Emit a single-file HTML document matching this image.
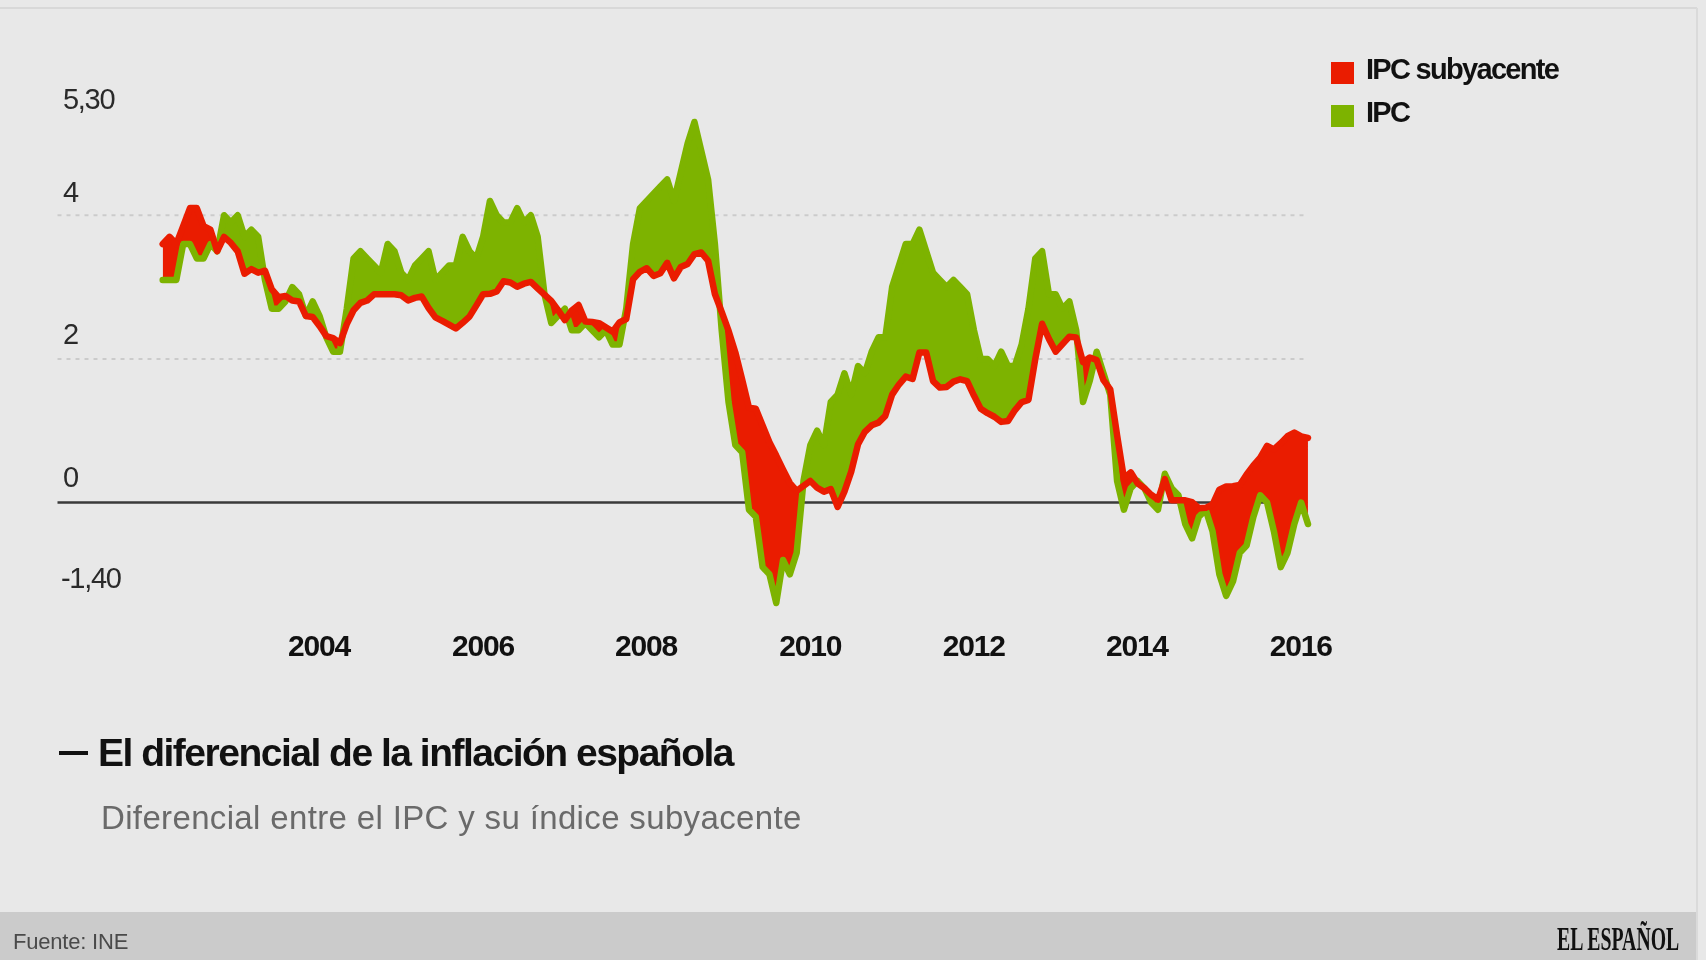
<!DOCTYPE html>
<html><head><meta charset="utf-8">
<style>
html,body{margin:0;padding:0;}
body{width:1706px;height:960px;position:relative;overflow:hidden;background:#e8e8e8;font-family:"Liberation Sans",sans-serif;}
.t{position:absolute;white-space:nowrap;line-height:1;}
.ylab{font-size:29px;color:#2a2a2a;letter-spacing:-1.3px;}
.xlab{font-size:30px;font-weight:bold;color:#111;letter-spacing:-1.2px;width:120px;text-align:center;}
.leg{font-size:29px;font-weight:bold;color:#111;letter-spacing:-1.7px;}
</style></head><body>
<div id="wrap" style="position:absolute;left:0;top:0;width:1706px;height:960px;filter:blur(0.5px)">
<div style="position:absolute;left:0;top:7px;width:1697px;height:2px;background:#d8d8d8"></div>
<div style="position:absolute;left:1696px;top:8px;width:2px;height:952px;background:#dadada"></div>
<div style="position:absolute;left:0;top:912px;width:1696px;height:48px;background:#cbcbcb"></div>
<svg width="1706" height="960" viewBox="0 0 1706 960" style="position:absolute;left:0;top:0">
<defs>
<clipPath id="cAboveIpc"><polygon points="162.71,0 162.71,279.92 169.53,279.92 176.34,279.92 183.16,244.02 189.98,244.02 196.79,258.38 203.61,258.38 210.43,244.02 217.25,251.20 224.06,215.30 230.88,222.48 237.70,215.30 244.51,236.84 251.33,229.66 258.15,236.84 264.96,279.92 271.78,308.64 278.60,308.64 285.42,301.46 292.23,287.10 299.05,294.28 305.87,315.82 312.68,301.46 319.50,315.82 326.32,337.36 333.13,351.72 339.95,351.72 346.77,308.64 353.58,258.38 360.40,251.20 367.22,258.38 374.04,265.56 380.85,272.74 387.67,244.02 394.49,251.20 401.30,272.74 408.12,279.92 414.94,265.56 421.75,258.38 428.57,251.20 435.39,279.92 442.21,272.74 449.02,265.56 455.84,265.56 462.66,236.84 469.47,251.20 476.29,258.38 483.11,236.84 489.93,200.94 496.74,215.30 503.56,222.48 510.38,222.48 517.19,208.12 524.01,222.48 530.83,215.30 537.64,236.84 544.46,294.28 551.28,323.00 558.10,315.82 564.91,308.64 571.73,330.18 578.55,330.18 585.36,323.00 592.18,330.18 599.00,337.36 605.81,330.18 612.63,344.54 619.45,344.54 626.26,308.64 633.08,244.02 639.90,208.12 646.72,200.94 653.53,193.76 660.35,186.58 667.17,179.40 673.98,200.94 680.80,172.22 687.62,143.50 694.43,121.96 701.25,150.68 708.07,179.40 714.89,244.02 721.70,330.18 728.52,401.98 735.34,445.06 742.15,452.24 748.97,509.68 755.79,516.86 762.61,567.12 769.42,574.30 776.24,603.02 783.06,559.94 789.87,574.30 796.69,552.76 803.51,480.96 810.32,445.06 817.14,430.70 823.96,445.06 830.78,401.98 837.59,394.80 844.41,373.26 851.23,394.80 858.04,366.08 864.86,373.26 871.68,351.72 878.49,337.36 885.31,337.36 892.13,287.10 898.95,265.56 905.76,244.02 912.58,244.02 919.40,229.66 926.21,251.20 933.03,272.74 939.85,279.92 946.66,287.10 953.48,279.92 960.30,287.10 967.12,294.28 973.93,330.18 980.75,358.90 987.57,358.90 994.38,366.08 1001.20,351.72 1008.02,366.08 1014.83,366.08 1021.65,344.54 1028.47,308.64 1035.28,258.38 1042.10,251.20 1048.92,294.28 1055.74,294.28 1062.55,308.64 1069.37,301.46 1076.19,330.18 1083.00,401.98 1089.82,380.44 1096.64,351.72 1103.45,373.26 1110.27,394.80 1117.09,480.96 1123.91,509.68 1130.72,488.14 1137.54,480.96 1144.36,488.14 1151.17,502.50 1157.99,509.68 1164.81,473.78 1171.62,488.14 1178.44,495.32 1185.26,524.04 1192.08,538.40 1198.89,516.86 1205.71,509.68 1212.53,531.22 1219.34,574.30 1226.16,595.84 1232.98,581.48 1239.80,552.76 1246.61,545.58 1253.43,516.86 1260.25,495.32 1267.06,502.50 1273.88,531.22 1280.70,567.12 1287.51,552.76 1294.33,524.04 1301.15,502.50 1307.97,524.04 1307.97,0"/></clipPath>
<clipPath id="cAboveCore"><polygon points="162.71,0 162.71,244.02 169.53,236.84 176.34,244.02 183.16,226.07 189.98,208.12 196.79,208.12 203.61,226.07 210.43,229.66 217.25,251.20 224.06,236.84 230.88,242.92 237.70,251.37 244.51,273.75 251.33,269.15 258.15,272.74 264.96,270.71 271.78,289.30 278.60,297.21 285.42,295.92 292.23,300.54 299.05,301.46 305.87,315.93 312.68,317.04 319.50,326.04 326.32,336.12 333.13,338.08 339.95,343.10 346.77,324.17 353.58,310.28 360.40,302.82 367.22,300.48 374.04,294.28 380.85,294.28 387.67,294.28 394.49,294.28 401.30,295.31 408.12,300.43 414.94,297.87 421.75,296.56 428.57,307.98 435.39,317.41 442.21,320.89 449.02,324.63 455.84,328.55 462.66,322.85 469.47,316.65 476.29,305.64 483.11,294.24 489.93,293.86 496.74,291.51 503.56,281.25 510.38,282.53 517.19,286.68 524.01,283.68 530.83,281.92 537.64,288.35 544.46,294.71 551.28,300.93 558.10,310.16 564.91,320.13 571.73,310.43 578.55,304.95 585.36,321.60 592.18,321.98 599.00,323.13 605.81,327.37 612.63,331.62 619.45,322.43 626.26,318.99 633.08,279.18 639.90,271.81 646.72,268.22 653.53,275.98 660.35,273.22 667.17,262.83 673.98,278.36 680.80,267.00 687.62,264.00 694.43,254.22 701.25,252.49 708.07,260.75 714.89,293.98 721.70,311.82 728.52,330.66 735.34,352.35 742.15,379.43 748.97,407.72 755.79,408.83 762.61,425.40 769.42,442.19 776.24,455.55 783.06,469.70 789.87,483.08 796.69,490.95 803.51,485.95 810.32,480.96 817.14,487.72 823.96,491.68 830.78,489.11 837.59,506.89 844.41,491.64 851.23,471.63 858.04,444.21 864.86,431.78 871.68,425.33 878.49,422.64 885.31,415.83 892.13,394.62 898.95,384.55 905.76,376.62 912.58,378.97 919.40,352.44 926.21,352.44 933.03,381.04 939.85,387.62 946.66,386.90 953.48,381.64 960.30,379.26 967.12,381.16 973.93,395.52 980.75,408.87 987.57,413.18 994.38,416.75 1001.20,421.90 1008.02,421.01 1014.83,410.30 1021.65,402.22 1028.47,399.83 1035.28,359.01 1042.10,323.79 1048.92,338.87 1055.74,351.69 1062.55,344.18 1069.37,336.67 1076.19,337.36 1083.00,362.21 1089.82,357.46 1096.64,360.07 1103.45,380.18 1110.27,389.41 1117.09,435.30 1123.91,478.25 1130.72,472.34 1137.54,483.26 1144.36,488.14 1151.17,494.73 1157.99,499.53 1164.81,479.20 1171.62,500.35 1178.44,500.35 1185.26,500.35 1192.08,502.14 1198.89,508.21 1205.71,507.83 1212.53,504.55 1219.34,489.68 1226.16,486.49 1232.98,486.23 1239.80,484.91 1246.61,474.43 1253.43,465.45 1260.25,457.70 1267.06,445.78 1273.88,449.37 1280.70,443.15 1287.51,436.14 1294.33,432.58 1301.15,436.44 1307.97,437.88 1307.97,0"/></clipPath>
</defs>
<line x1="57.5" y1="215.3" x2="1305" y2="215.3" stroke="#cbcbcb" stroke-width="2" stroke-dasharray="4 5"/>
<line x1="57.5" y1="359" x2="1305" y2="359" stroke="#cbcbcb" stroke-width="2" stroke-dasharray="4 5"/>
<line x1="57.5" y1="502.5" x2="1305" y2="502.5" stroke="#3a3a3a" stroke-width="2.5"/>
<polygon points="162.71,960 162.71,244.02 169.53,236.84 176.34,244.02 183.16,226.07 189.98,208.12 196.79,208.12 203.61,226.07 210.43,229.66 217.25,251.20 224.06,236.84 230.88,242.92 237.70,251.37 244.51,273.75 251.33,269.15 258.15,272.74 264.96,270.71 271.78,289.30 278.60,297.21 285.42,295.92 292.23,300.54 299.05,301.46 305.87,315.93 312.68,317.04 319.50,326.04 326.32,336.12 333.13,338.08 339.95,343.10 346.77,324.17 353.58,310.28 360.40,302.82 367.22,300.48 374.04,294.28 380.85,294.28 387.67,294.28 394.49,294.28 401.30,295.31 408.12,300.43 414.94,297.87 421.75,296.56 428.57,307.98 435.39,317.41 442.21,320.89 449.02,324.63 455.84,328.55 462.66,322.85 469.47,316.65 476.29,305.64 483.11,294.24 489.93,293.86 496.74,291.51 503.56,281.25 510.38,282.53 517.19,286.68 524.01,283.68 530.83,281.92 537.64,288.35 544.46,294.71 551.28,300.93 558.10,310.16 564.91,320.13 571.73,310.43 578.55,304.95 585.36,321.60 592.18,321.98 599.00,323.13 605.81,327.37 612.63,331.62 619.45,322.43 626.26,318.99 633.08,279.18 639.90,271.81 646.72,268.22 653.53,275.98 660.35,273.22 667.17,262.83 673.98,278.36 680.80,267.00 687.62,264.00 694.43,254.22 701.25,252.49 708.07,260.75 714.89,293.98 721.70,311.82 728.52,330.66 735.34,352.35 742.15,379.43 748.97,407.72 755.79,408.83 762.61,425.40 769.42,442.19 776.24,455.55 783.06,469.70 789.87,483.08 796.69,490.95 803.51,485.95 810.32,480.96 817.14,487.72 823.96,491.68 830.78,489.11 837.59,506.89 844.41,491.64 851.23,471.63 858.04,444.21 864.86,431.78 871.68,425.33 878.49,422.64 885.31,415.83 892.13,394.62 898.95,384.55 905.76,376.62 912.58,378.97 919.40,352.44 926.21,352.44 933.03,381.04 939.85,387.62 946.66,386.90 953.48,381.64 960.30,379.26 967.12,381.16 973.93,395.52 980.75,408.87 987.57,413.18 994.38,416.75 1001.20,421.90 1008.02,421.01 1014.83,410.30 1021.65,402.22 1028.47,399.83 1035.28,359.01 1042.10,323.79 1048.92,338.87 1055.74,351.69 1062.55,344.18 1069.37,336.67 1076.19,337.36 1083.00,362.21 1089.82,357.46 1096.64,360.07 1103.45,380.18 1110.27,389.41 1117.09,435.30 1123.91,478.25 1130.72,472.34 1137.54,483.26 1144.36,488.14 1151.17,494.73 1157.99,499.53 1164.81,479.20 1171.62,500.35 1178.44,500.35 1185.26,500.35 1192.08,502.14 1198.89,508.21 1205.71,507.83 1212.53,504.55 1219.34,489.68 1226.16,486.49 1232.98,486.23 1239.80,484.91 1246.61,474.43 1253.43,465.45 1260.25,457.70 1267.06,445.78 1273.88,449.37 1280.70,443.15 1287.51,436.14 1294.33,432.58 1301.15,436.44 1307.97,437.88 1307.97,960" fill="#ea1c00" clip-path="url(#cAboveIpc)"/>
<polygon points="162.71,960 162.71,279.92 169.53,279.92 176.34,279.92 183.16,244.02 189.98,244.02 196.79,258.38 203.61,258.38 210.43,244.02 217.25,251.20 224.06,215.30 230.88,222.48 237.70,215.30 244.51,236.84 251.33,229.66 258.15,236.84 264.96,279.92 271.78,308.64 278.60,308.64 285.42,301.46 292.23,287.10 299.05,294.28 305.87,315.82 312.68,301.46 319.50,315.82 326.32,337.36 333.13,351.72 339.95,351.72 346.77,308.64 353.58,258.38 360.40,251.20 367.22,258.38 374.04,265.56 380.85,272.74 387.67,244.02 394.49,251.20 401.30,272.74 408.12,279.92 414.94,265.56 421.75,258.38 428.57,251.20 435.39,279.92 442.21,272.74 449.02,265.56 455.84,265.56 462.66,236.84 469.47,251.20 476.29,258.38 483.11,236.84 489.93,200.94 496.74,215.30 503.56,222.48 510.38,222.48 517.19,208.12 524.01,222.48 530.83,215.30 537.64,236.84 544.46,294.28 551.28,323.00 558.10,315.82 564.91,308.64 571.73,330.18 578.55,330.18 585.36,323.00 592.18,330.18 599.00,337.36 605.81,330.18 612.63,344.54 619.45,344.54 626.26,308.64 633.08,244.02 639.90,208.12 646.72,200.94 653.53,193.76 660.35,186.58 667.17,179.40 673.98,200.94 680.80,172.22 687.62,143.50 694.43,121.96 701.25,150.68 708.07,179.40 714.89,244.02 721.70,330.18 728.52,401.98 735.34,445.06 742.15,452.24 748.97,509.68 755.79,516.86 762.61,567.12 769.42,574.30 776.24,603.02 783.06,559.94 789.87,574.30 796.69,552.76 803.51,480.96 810.32,445.06 817.14,430.70 823.96,445.06 830.78,401.98 837.59,394.80 844.41,373.26 851.23,394.80 858.04,366.08 864.86,373.26 871.68,351.72 878.49,337.36 885.31,337.36 892.13,287.10 898.95,265.56 905.76,244.02 912.58,244.02 919.40,229.66 926.21,251.20 933.03,272.74 939.85,279.92 946.66,287.10 953.48,279.92 960.30,287.10 967.12,294.28 973.93,330.18 980.75,358.90 987.57,358.90 994.38,366.08 1001.20,351.72 1008.02,366.08 1014.83,366.08 1021.65,344.54 1028.47,308.64 1035.28,258.38 1042.10,251.20 1048.92,294.28 1055.74,294.28 1062.55,308.64 1069.37,301.46 1076.19,330.18 1083.00,401.98 1089.82,380.44 1096.64,351.72 1103.45,373.26 1110.27,394.80 1117.09,480.96 1123.91,509.68 1130.72,488.14 1137.54,480.96 1144.36,488.14 1151.17,502.50 1157.99,509.68 1164.81,473.78 1171.62,488.14 1178.44,495.32 1185.26,524.04 1192.08,538.40 1198.89,516.86 1205.71,509.68 1212.53,531.22 1219.34,574.30 1226.16,595.84 1232.98,581.48 1239.80,552.76 1246.61,545.58 1253.43,516.86 1260.25,495.32 1267.06,502.50 1273.88,531.22 1280.70,567.12 1287.51,552.76 1294.33,524.04 1301.15,502.50 1307.97,524.04 1307.97,960" fill="#7db300" clip-path="url(#cAboveCore)"/>
<polyline points="162.71,279.92 169.53,279.92 176.34,279.92 183.16,244.02 189.98,244.02 196.79,258.38 203.61,258.38 210.43,244.02 217.25,251.20 224.06,215.30 230.88,222.48 237.70,215.30 244.51,236.84 251.33,229.66 258.15,236.84 264.96,279.92 271.78,308.64 278.60,308.64 285.42,301.46 292.23,287.10 299.05,294.28 305.87,315.82 312.68,301.46 319.50,315.82 326.32,337.36 333.13,351.72 339.95,351.72 346.77,308.64 353.58,258.38 360.40,251.20 367.22,258.38 374.04,265.56 380.85,272.74 387.67,244.02 394.49,251.20 401.30,272.74 408.12,279.92 414.94,265.56 421.75,258.38 428.57,251.20 435.39,279.92 442.21,272.74 449.02,265.56 455.84,265.56 462.66,236.84 469.47,251.20 476.29,258.38 483.11,236.84 489.93,200.94 496.74,215.30 503.56,222.48 510.38,222.48 517.19,208.12 524.01,222.48 530.83,215.30 537.64,236.84 544.46,294.28 551.28,323.00 558.10,315.82 564.91,308.64 571.73,330.18 578.55,330.18 585.36,323.00 592.18,330.18 599.00,337.36 605.81,330.18 612.63,344.54 619.45,344.54 626.26,308.64 633.08,244.02 639.90,208.12 646.72,200.94 653.53,193.76 660.35,186.58 667.17,179.40 673.98,200.94 680.80,172.22 687.62,143.50 694.43,121.96 701.25,150.68 708.07,179.40 714.89,244.02 721.70,330.18 728.52,401.98 735.34,445.06 742.15,452.24 748.97,509.68 755.79,516.86 762.61,567.12 769.42,574.30 776.24,603.02 783.06,559.94 789.87,574.30 796.69,552.76 803.51,480.96 810.32,445.06 817.14,430.70 823.96,445.06 830.78,401.98 837.59,394.80 844.41,373.26 851.23,394.80 858.04,366.08 864.86,373.26 871.68,351.72 878.49,337.36 885.31,337.36 892.13,287.10 898.95,265.56 905.76,244.02 912.58,244.02 919.40,229.66 926.21,251.20 933.03,272.74 939.85,279.92 946.66,287.10 953.48,279.92 960.30,287.10 967.12,294.28 973.93,330.18 980.75,358.90 987.57,358.90 994.38,366.08 1001.20,351.72 1008.02,366.08 1014.83,366.08 1021.65,344.54 1028.47,308.64 1035.28,258.38 1042.10,251.20 1048.92,294.28 1055.74,294.28 1062.55,308.64 1069.37,301.46 1076.19,330.18 1083.00,401.98 1089.82,380.44 1096.64,351.72 1103.45,373.26 1110.27,394.80 1117.09,480.96 1123.91,509.68 1130.72,488.14 1137.54,480.96 1144.36,488.14 1151.17,502.50 1157.99,509.68 1164.81,473.78 1171.62,488.14 1178.44,495.32 1185.26,524.04 1192.08,538.40 1198.89,516.86 1205.71,509.68 1212.53,531.22 1219.34,574.30 1226.16,595.84 1232.98,581.48 1239.80,552.76 1246.61,545.58 1253.43,516.86 1260.25,495.32 1267.06,502.50 1273.88,531.22 1280.70,567.12 1287.51,552.76 1294.33,524.04 1301.15,502.50 1307.97,524.04" fill="none" stroke="#7db300" stroke-width="6.5" stroke-linejoin="round" stroke-linecap="round"/>
<polyline points="162.71,244.02 169.53,236.84 176.34,244.02 183.16,226.07 189.98,208.12 196.79,208.12 203.61,226.07 210.43,229.66 217.25,251.20 224.06,236.84 230.88,242.92 237.70,251.37 244.51,273.75 251.33,269.15 258.15,272.74 264.96,270.71 271.78,289.30 278.60,297.21 285.42,295.92 292.23,300.54 299.05,301.46 305.87,315.93 312.68,317.04 319.50,326.04 326.32,336.12 333.13,338.08 339.95,343.10 346.77,324.17 353.58,310.28 360.40,302.82 367.22,300.48 374.04,294.28 380.85,294.28 387.67,294.28 394.49,294.28 401.30,295.31 408.12,300.43 414.94,297.87 421.75,296.56 428.57,307.98 435.39,317.41 442.21,320.89 449.02,324.63 455.84,328.55 462.66,322.85 469.47,316.65 476.29,305.64 483.11,294.24 489.93,293.86 496.74,291.51 503.56,281.25 510.38,282.53 517.19,286.68 524.01,283.68 530.83,281.92 537.64,288.35 544.46,294.71 551.28,300.93 558.10,310.16 564.91,320.13 571.73,310.43 578.55,304.95 585.36,321.60 592.18,321.98 599.00,323.13 605.81,327.37 612.63,331.62 619.45,322.43 626.26,318.99 633.08,279.18 639.90,271.81 646.72,268.22 653.53,275.98 660.35,273.22 667.17,262.83 673.98,278.36 680.80,267.00 687.62,264.00 694.43,254.22 701.25,252.49 708.07,260.75 714.89,293.98 721.70,311.82 728.52,330.66 735.34,352.35 742.15,379.43 748.97,407.72 755.79,408.83 762.61,425.40 769.42,442.19 776.24,455.55 783.06,469.70 789.87,483.08 796.69,490.95 803.51,485.95 810.32,480.96 817.14,487.72 823.96,491.68 830.78,489.11 837.59,506.89 844.41,491.64 851.23,471.63 858.04,444.21 864.86,431.78 871.68,425.33 878.49,422.64 885.31,415.83 892.13,394.62 898.95,384.55 905.76,376.62 912.58,378.97 919.40,352.44 926.21,352.44 933.03,381.04 939.85,387.62 946.66,386.90 953.48,381.64 960.30,379.26 967.12,381.16 973.93,395.52 980.75,408.87 987.57,413.18 994.38,416.75 1001.20,421.90 1008.02,421.01 1014.83,410.30 1021.65,402.22 1028.47,399.83 1035.28,359.01 1042.10,323.79 1048.92,338.87 1055.74,351.69 1062.55,344.18 1069.37,336.67 1076.19,337.36 1083.00,362.21 1089.82,357.46 1096.64,360.07 1103.45,380.18 1110.27,389.41 1117.09,435.30 1123.91,478.25 1130.72,472.34 1137.54,483.26 1144.36,488.14 1151.17,494.73 1157.99,499.53 1164.81,479.20 1171.62,500.35 1178.44,500.35 1185.26,500.35 1192.08,502.14 1198.89,508.21 1205.71,507.83 1212.53,504.55 1219.34,489.68 1226.16,486.49 1232.98,486.23 1239.80,484.91 1246.61,474.43 1253.43,465.45 1260.25,457.70 1267.06,445.78 1273.88,449.37 1280.70,443.15 1287.51,436.14 1294.33,432.58 1301.15,436.44 1307.97,437.88" fill="none" stroke="#ea1c00" stroke-width="6.5" stroke-linejoin="round" stroke-linecap="round"/>
</svg>
<div class="t ylab" style="left:63px;top:85px">5,30</div>
<div class="t ylab" style="left:63px;top:178px">4</div>
<div class="t ylab" style="left:63px;top:320px">2</div>
<div class="t ylab" style="left:63px;top:463px">0</div>
<div class="t ylab" style="left:61px;top:563.5px">-1,40</div>
<div class="t xlab" style="left:259.1px;top:630.5px">2004</div>
<div class="t xlab" style="left:423.0px;top:630.5px">2006</div>
<div class="t xlab" style="left:586.1px;top:630.5px">2008</div>
<div class="t xlab" style="left:750.2px;top:630.5px">2010</div>
<div class="t xlab" style="left:913.7px;top:630.5px">2012</div>
<div class="t xlab" style="left:1076.9px;top:630.5px">2014</div>
<div class="t xlab" style="left:1240.7px;top:630.5px">2016</div>
<div style="position:absolute;left:1331px;top:62px;width:23px;height:22px;background:#ea1c00"></div>
<div style="position:absolute;left:1331px;top:105px;width:23px;height:22px;background:#7db300"></div>
<div class="t leg" style="left:1366px;top:55px">IPC subyacente</div>
<div class="t leg" style="left:1366px;top:98px">IPC</div>
<div style="position:absolute;left:59px;top:751px;width:29px;height:4px;background:#111"></div>
<div class="t" style="left:98px;top:733px;font-size:39px;font-weight:bold;color:#111;letter-spacing:-1.5px">El diferencial de la inflación española</div>
<div class="t" style="left:101px;top:801px;font-size:33px;color:#6a6a6a;letter-spacing:0.35px">Diferencial entre el IPC y su índice subyacente</div>
<div class="t" style="left:13px;top:930.5px;font-size:22px;color:#4a4a4a;letter-spacing:-0.2px">Fuente: INE</div>
<div class="t" style="left:1557px;top:923px;font-size:33px;font-weight:bold;font-family:'Liberation Serif',serif;color:#111;transform:scaleX(0.6);transform-origin:left top">EL ESPAÑOL</div>
</div>
</body></html>
